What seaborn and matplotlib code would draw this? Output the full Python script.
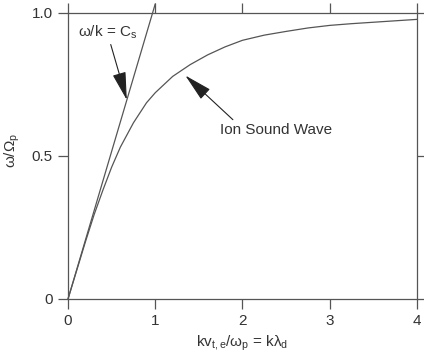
import matplotlib
matplotlib.use("Agg")
import matplotlib.pyplot as plt
import seaborn as sns
import pandas as pd

# Data
k_wave = [0.0, 0.1, 0.2, 0.3, 0.4, 0.5, 0.6, 0.75, 0.9, 1.0, 1.2, 1.4, 1.6, 1.8, 2.0, 2.25, 2.5, 2.75, 3.0, 3.25, 3.5, 3.75, 4.0]
w_wave = [0.0, 0.10, 0.20, 0.295, 0.38, 0.46, 0.53, 0.615, 0.685, 0.72, 0.777, 0.818, 0.852, 0.88, 0.903, 0.921, 0.934, 0.946, 0.955, 0.961, 0.966, 0.971, 0.976]
k_cs = [0.0, 1.0]
w_cs = [0.0, 1.03]
x_ticks = [0, 1, 2, 3, 4]
y_ticks = [0, 0.5, 1.0]
y_ticklabels = ["0", "0.5", "1.0"]

sns.set_style("ticks")
plt.rcParams["font.family"] = ["Liberation Sans", "DejaVu Sans"]
plt.rcParams["mathtext.fontset"] = "custom"
plt.rcParams["mathtext.rm"] = "Liberation Sans"
plt.rcParams["mathtext.it"] = "Liberation Sans"
plt.rcParams["mathtext.bf"] = "Liberation Sans"

grey = "#555555"
txt = "#333333"

fig = plt.figure(figsize=(4.24, 3.61), dpi=100)
ax = fig.add_axes([68 / 424, 1 - 299 / 361, (417 - 68) / 424, (299 - 12.5) / 361])

df_wave = pd.DataFrame({"k": k_wave, "w": w_wave})
df_cs = pd.DataFrame({"k": k_cs, "w": w_cs})
sns.lineplot(data=df_wave, x="k", y="w", ax=ax, color=grey, lw=0.9, sort=False)
sns.lineplot(data=df_cs, x="k", y="w", ax=ax, color=grey, lw=0.9, sort=False)
for line in ax.lines:
    line.set_clip_on(False)
    line.set_solid_joinstyle("round")

ax.set_xlim(0, 4)
ax.set_ylim(0, 1.0)
ax.set_xticks(x_ticks)
ax.set_xticklabels([str(t) for t in x_ticks])
ax.set_yticks(y_ticks)
ax.set_yticklabels(y_ticklabels)

for s in ax.spines.values():
    s.set_visible(True)
    s.set_color(grey)
    s.set_linewidth(0.9)

ax.tick_params(axis="both", direction="out", length=7, width=0.9, color=grey,
               labelsize=11, labelcolor=txt, top=True, right=True, pad=4)

ax.set_xlabel(r"kv$_\mathrm{t,e}$/ω$_\mathrm{p}$ = kλ$_\mathrm{d}$", fontsize=11, color=txt)
ax.xaxis.set_label_coords(0.5, -0.12)
ax.set_ylabel(r"ω/Ω$_\mathrm{p}$", fontsize=11, color=txt)
ax.yaxis.set_label_coords(-0.132, 0.52)

arrow = dict(arrowstyle="-|>,head_length=1.25,head_width=0.3", color="#222222",
             lw=0.8, shrinkA=0, shrinkB=0, mutation_scale=14)
ax.annotate(r"ω/k = C$_\mathrm{s}$", xy=(0.674, 0.695), xytext=(0.45, 0.93),
            fontsize=11, color=txt, ha="center", va="center", arrowprops=arrow)
ax.annotate("Ion Sound Wave", xy=(1.345, 0.78), xytext=(2.38, 0.59),
            fontsize=11, color=txt, ha="center", va="center",
            arrowprops=dict(arrow, relpos=(0.15, 1.0)))

fig.savefig("out.png", dpi=100)
